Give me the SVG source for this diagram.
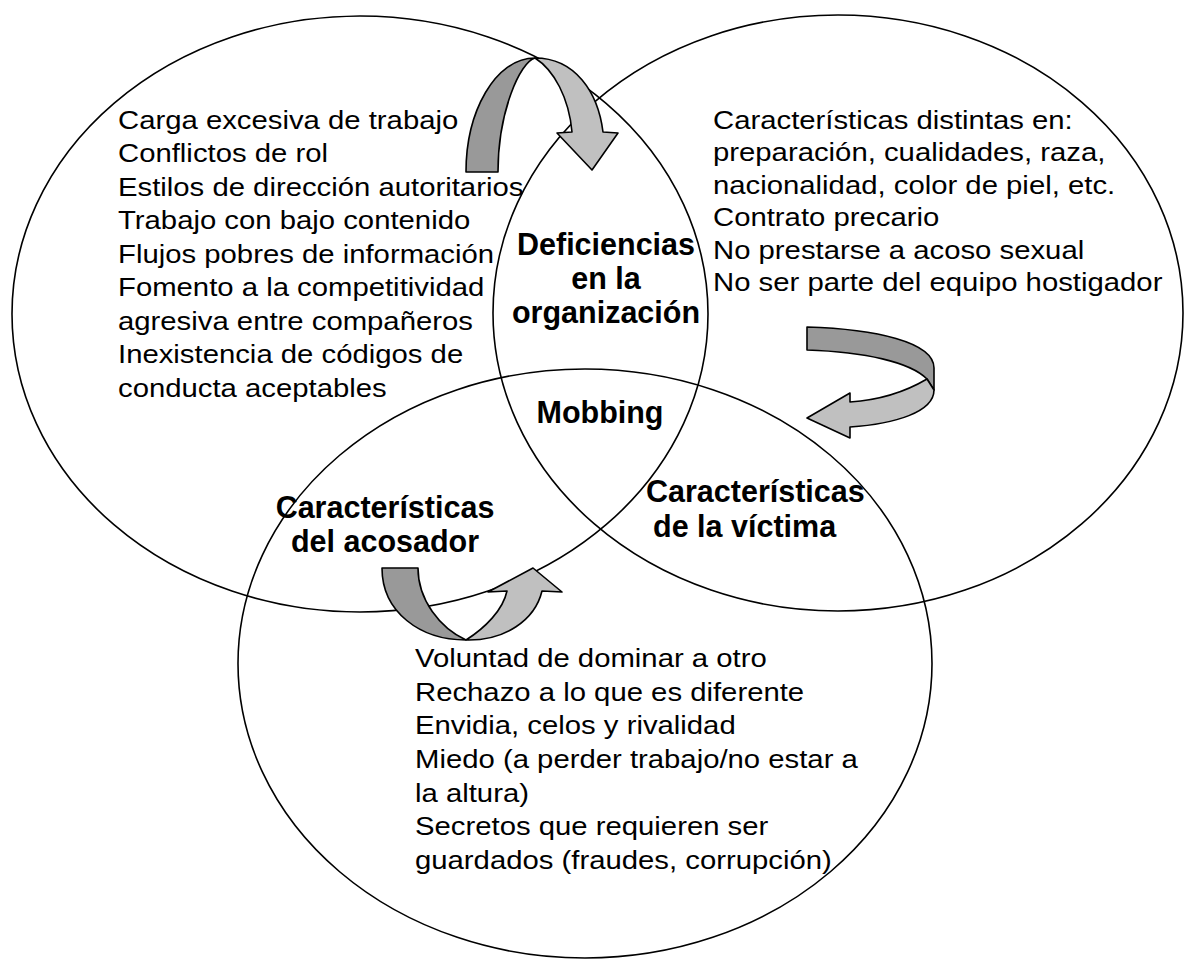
<svg xmlns="http://www.w3.org/2000/svg" width="1184" height="961" viewBox="0 0 1184 961">
<style>
.ring{fill:none;stroke:#000;stroke-width:1.6}
.t{font-family:"Liberation Sans",Arial,sans-serif;font-size:26px;fill:#000}
.b{font-family:"Liberation Sans",Arial,sans-serif;font-size:30.5px;font-weight:bold;fill:#000}
.dk{fill:#999999;stroke:#000;stroke-width:1.6;stroke-linejoin:round}
.lt{fill:#c0c0c0;stroke:#000;stroke-width:1.6;stroke-linejoin:round}
</style>
<rect width="1184" height="961" fill="#fff"/>
<g id="organizacion">
<ellipse class="ring" cx="360" cy="314" rx="348" ry="298"/>
<g transform="translate(118,0) scale(1.127,1)">
<text class="t" x="0" y="129">Carga excesiva de trabajo</text>
<text class="t" x="0" y="162.5">Conflictos de rol</text>
<text class="t" x="0" y="196">Estilos de dirección autoritarios</text>
<text class="t" x="0" y="229.5">Trabajo con bajo contenido</text>
<text class="t" x="0" y="263">Flujos pobres de información</text>
<text class="t" x="0" y="296.5">Fomento a la competitividad</text>
<text class="t" x="0" y="330">agresiva entre compañeros</text>
<text class="t" x="0" y="363.5">Inexistencia de códigos de</text>
<text class="t" x="0" y="397">conducta aceptables</text>
</g>
<text class="b" x="606" y="255" text-anchor="middle">Deficiencias</text>
<text class="b" x="606" y="289" text-anchor="middle">en la</text>
<text class="b" x="606" y="323" text-anchor="middle">organización</text>
</g>
<g id="victima">
<ellipse class="ring" cx="838" cy="313" rx="345" ry="298"/>
<g transform="translate(713,0) scale(1.127,1)">
<text class="t" x="0" y="129">Características distintas en:</text>
<text class="t" x="0" y="161.5">preparación, cualidades, raza,</text>
<text class="t" x="0" y="194">nacionalidad, color de piel, etc.</text>
<text class="t" x="0" y="226.5">Contrato precario</text>
<text class="t" x="0" y="259">No prestarse a acoso sexual</text>
<text class="t" x="0" y="291.5">No ser parte del equipo hostigador</text>
</g>
<text class="b" x="646" y="502">Características</text>
<text class="b" x="653" y="537">de la víctima</text>
</g>
<g id="acosador">
<ellipse class="ring" cx="585" cy="663.5" rx="347" ry="294.5"/>
<g transform="translate(415,0) scale(1.127,1)">
<text class="t" x="0" y="667">Voluntad de dominar a otro</text>
<text class="t" x="0" y="700.7">Rechazo a lo que es diferente</text>
<text class="t" x="0" y="734.4">Envidia, celos y rivalidad</text>
<text class="t" x="0" y="768.1">Miedo (a perder trabajo/no estar a</text>
<text class="t" x="0" y="801.8">la altura)</text>
<text class="t" x="0" y="835.5">Secretos que requieren ser</text>
<text class="t" x="0" y="869.2">guardados (fraudes, corrupción)</text>
</g>
<text class="b" x="385" y="518" text-anchor="middle">Características</text>
<text class="b" x="385" y="552" text-anchor="middle">del acosador</text>
</g>
<g id="mobbing">
<text class="b" x="600" y="423" text-anchor="middle">Mobbing</text>
</g>
<g id="connectors">
<g id="arrow-top">
<path class="dk" d="M466,172 C466,112 495,58 535,58 C520,62 498,112 498,172 Z"/>
<path class="lt" d="M535,58 C575,58 598,92 603,132 L618,133 L592,170 L557,133 L572,132 C569,98 554,70 535,58 Z"/>
</g>
<g id="arrow-right">
<path class="dk" d="M807,327 C875,329 934,342 934,368 L934,390 L927,379 C910,362 865,352 807,350 Z"/>
<path class="lt" d="M927,379 C905,392 880,400 850,402 L850,393 L807,418 L850,438 L850,427 C895,424 934,412 934,390 Z"/>
</g>
<g id="arrow-bottom">
<path class="dk" d="M382,568 L418,568 C418,600 440,628 466,640 C420,640 382,612 382,568 Z"/>
<path class="lt" d="M466,640 C485,628 503,610 507,591 L488,592 L533,568 L562,592 L542,591 C535,620 505,641 466,640 Z"/>
</g>
</g>
</svg>
